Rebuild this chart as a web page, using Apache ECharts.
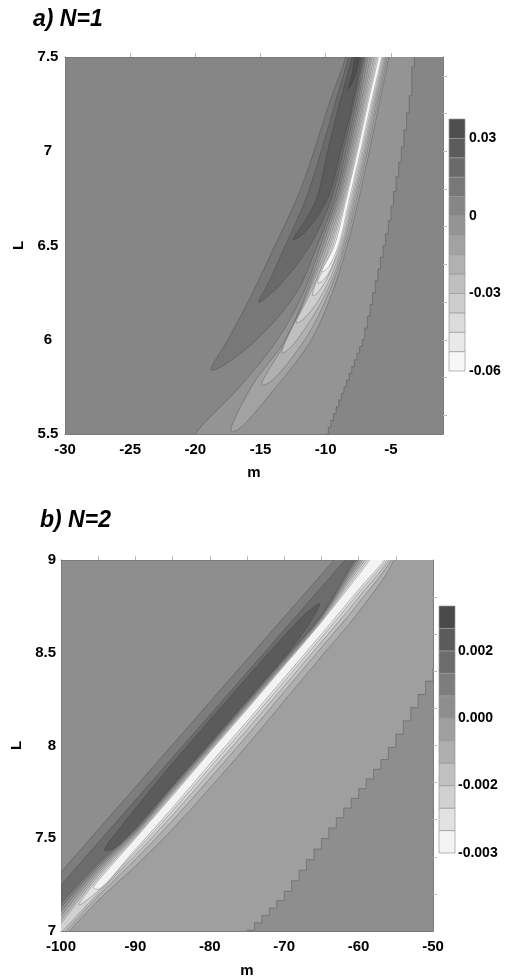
<!DOCTYPE html>
<html><head><meta charset="utf-8">
<script src="https://cdn.jsdelivr.net/npm/echarts@6/dist/echarts.min.js"></script>
<style>html,body{margin:0;padding:0;background:#fff}#c{width:507px;height:979px}</style>
</head><body><div id="c"></div>
<script>
// ================= DATA =================
// ---- panel a) N=1 ----
const mA_labels = [-30, -25, -20, -15, -10, -5];
const mA_topTicks = [-25, -20, -15, -10, -5];
const LA_rightTicks = [5.6, 5.8, 6.0, 6.2, 6.4, 6.6, 6.8, 7.0, 7.2, 7.4];
const levelsA = [-0.06, -0.0525, -0.045, -0.0375, -0.03, -0.0225, -0.015, -0.0075, 0, 0.0075, 0.015, 0.0225, 0.03, 0.0375];
const cbTicksA = [0.03, 0, -0.03, -0.06];
const cbLabelsA = ['0.03', '0', '-0.03', '-0.06'];
// contour lines [m, L]
const a_zero = [[-20.5,5.42],[-20,5.5],[-16.6,5.75],[-13.7,6.0],[-11.7,6.25],[-10.4,6.5],[-9.15,6.75],[-8.3,7.0],[-7.55,7.25],[-6.92,7.5],[-6.6,7.62]];
const a_stair = [[-10.2,5.46],[-10.0,5.5],[-9.0,5.68],[-7.2,6.0],[-5.28,6.6],[-4.25,7.0],[-3.5,7.34],[-3.35,7.5],[-3.3,7.62]];
const a_N1 = [[-17.25,5.515],[-15.7,5.75],[-13.1,6.0],[-11.5,6.25],[-10.21,6.5],[-9.02,6.75],[-8.17,7.0],[-7.42,7.25],[-6.75,7.5],[-6.45,7.62],[-4.8,7.62],[-5.15,7.5],[-5.9,7.25],[-6.65,7.0],[-7.45,6.75],[-8.35,6.5],[-9.5,6.25],[-11.1,6.0],[-13.8,5.75],[-16.8,5.52]];
const a_N2 = [[-14.9,5.76],[-13.0,6.0],[-11.4,6.25],[-10.03,6.5],[-8.9,6.75],[-8.05,7.0],[-7.28,7.25],[-6.58,7.5],[-6.3,7.62],[-4.95,7.62],[-5.28,7.5],[-6.05,7.25],[-6.81,7.0],[-7.62,6.75],[-8.51,6.5],[-9.75,6.25],[-11.6,6.0],[-14.2,5.78]];
const a_N3 = [[-13.36,5.93],[-11.3,6.25],[-9.86,6.5],[-8.78,6.75],[-7.93,7.0],[-7.16,7.25],[-6.44,7.5],[-6.15,7.62],[-5.05,7.62],[-5.38,7.5],[-6.16,7.25],[-6.93,7.0],[-7.75,6.75],[-8.63,6.5],[-9.95,6.25],[-12.2,6.0],[-13.0,5.94]];
const a_N4 = [[-12.26,6.09],[-11.15,6.25],[-9.71,6.5],[-8.68,6.75],[-7.83,7.0],[-7.06,7.25],[-6.3,7.5],[-6.0,7.62],[-5.13,7.62],[-5.46,7.5],[-6.26,7.25],[-7.03,7.0],[-7.86,6.75],[-8.73,6.5],[-10.2,6.25],[-11.7,6.11]];
const a_N5 = [[-11.0,6.235],[-10.5,6.35],[-9.58,6.5],[-8.59,6.75],[-7.74,7.0],[-6.96,7.25],[-6.18,7.5],[-5.88,7.62],[-5.2,7.62],[-5.54,7.5],[-6.35,7.25],[-7.13,7.0],[-7.96,6.75],[-8.83,6.5],[-10.1,6.3],[-10.7,6.245]];
const a_N6 = [[-10.6,6.3],[-9.45,6.5],[-8.5,6.75],[-7.65,7.0],[-6.87,7.25],[-6.07,7.5],[-5.77,7.62],[-5.28,7.62],[-5.62,7.5],[-6.44,7.25],[-7.23,7.0],[-8.06,6.75],[-8.93,6.5],[-10.0,6.33]];
const a_N7 = [[-10.3,6.36],[-9.33,6.5],[-8.42,6.75],[-7.57,7.0],[-6.78,7.25],[-5.96,7.5],[-5.66,7.62],[-5.36,7.62],[-5.7,7.5],[-6.54,7.25],[-7.33,7.0],[-8.17,6.75],[-9.03,6.5],[-9.85,6.38]];
const a_P1 = [[-18.79,5.84],[-17.5,6.0],[-15.6,6.25],[-13.9,6.5],[-12.2,6.75],[-10.9,7.0],[-9.75,7.25],[-8.45,7.5],[-7.95,7.62],[-6.75,7.62],[-7.03,7.5],[-7.7,7.25],[-8.45,7.0],[-9.3,6.75],[-10.65,6.5],[-12.25,6.25],[-15.3,6.0],[-18.2,5.85]];
const a_P2 = [[-15.13,6.2],[-14.4,6.3],[-13.1,6.5],[-11.5,6.75],[-10.35,7.0],[-9.3,7.25],[-8.23,7.5],[-7.75,7.62],[-6.85,7.62],[-7.13,7.5],[-7.85,7.25],[-8.65,7.0],[-9.55,6.75],[-11.2,6.5],[-13.8,6.27]];
const a_P3 = [[-12.51,6.53],[-11.6,6.63],[-10.7,6.75],[-9.85,7.0],[-8.95,7.25],[-7.97,7.5],[-7.55,7.62],[-7.0,7.62],[-7.26,7.5],[-7.95,7.25],[-8.85,7.0],[-9.85,6.75],[-11.6,6.57]];
const a_P4 = [[-8.25,7.33],[-7.95,7.42],[-7.77,7.5],[-7.55,7.62],[-7.25,7.62],[-7.41,7.5],[-7.75,7.4]];

// ---- panel b) N=2 ----
const mB_topTicks = [-95, -90, -85, -80, -75, -70, -65, -60, -55];
const LB_rightTicks = [7.2, 7.4, 7.6, 7.8, 8.0, 8.2, 8.4, 8.6, 8.8];
const levelsB = [-0.004, -0.003333, -0.002667, -0.002, -0.001333, -0.000667, 0, 0.000667, 0.001333, 0.002, 0.002667, 0.003333];
const cbTicksB = [0.002, 0, -0.002, -0.004];
const cbLabelsB = ['0.002', '0.000', '-0.002', '-0.003'];
const b_p0667_up = [[-100,7.317],[-80,8.234],[-63.3,9.0],[-61,9.105]];
const b_p1333_up = [[-100,7.247],[-80,8.164],[-61.8,9.0],[-59.5,9.105]];
const b_p2_lobe = [[-94.13,7.434],[-92,7.56],[-90,7.66],[-85,7.905],[-80,8.137],[-75,8.367],[-70,8.59],[-67,8.715],[-65.23,8.765],[-66.5,8.665],[-70,8.476],[-75,8.247],[-80,8.017],[-85,7.788],[-90,7.558],[-92.7,7.45]];
const b_p1333_low = [[-100,7.15],[-95,7.366],[-90,7.551],[-85,7.783],[-80,8.01],[-75,8.24],[-70,8.47],[-65,8.704],[-60,9.034],[-55,9.284]];
const b_p0667_low = [[-100,7.127],[-95,7.353],[-90,7.543],[-85,7.776],[-80,8.003],[-75,8.233],[-70,8.463],[-65,8.699],[-60,9.018],[-55,9.268]];
const b_zero_up = [[-100,7.104],[-95,7.339],[-90,7.536],[-85,7.768],[-80,7.997],[-75,8.227],[-70,8.457],[-65,8.693],[-60,9.001],[-55,9.251]];
const b_m0667_up = [[-100,7.082],[-95,7.325],[-90,7.529],[-85,7.76],[-80,7.99],[-75,8.22],[-70,8.45],[-65,8.688],[-60,8.985],[-55,9.235]];
const b_m1333_up = [[-100,7.06],[-95,7.311],[-90,7.522],[-85,7.753],[-80,7.984],[-75,8.214],[-70,8.445],[-65,8.682],[-60,8.969],[-55,9.219]];
const b_m2_up = [[-100,7.04],[-95,7.298],[-90,7.514],[-85,7.745],[-80,7.978],[-75,8.208],[-70,8.44],[-65,8.676],[-60,8.953],[-55,9.203]];
const b_m2667_up = [[-97.6,7.14],[-95,7.284],[-90,7.507],[-85,7.738],[-80,7.971],[-75,8.201],[-70,8.435],[-65,8.671],[-60,8.936],[-55,9.186]];
const b_m3333_up = [[-95.6,7.235],[-95,7.27],[-90,7.5],[-85,7.73],[-80,7.965],[-75,8.195],[-70,8.43],[-65,8.665],[-60,8.92],[-55,9.17]];
const b_m3333_low = [[-55,9.09],[-60,8.84],[-65,8.6],[-70,8.365],[-75,8.13],[-80,7.9],[-85,7.665],[-90,7.44],[-95,7.225]];
const b_m2667_low = [[-55,9.081],[-60,8.822],[-65,8.582],[-70,8.346],[-75,8.111],[-80,7.881],[-85,7.648],[-90,7.427],[-95,7.216]];
const b_m2_low = [[-55,9.069],[-60,8.798],[-65,8.558],[-70,8.321],[-75,8.085],[-80,7.855],[-85,7.625],[-90,7.409],[-95,7.204],[-100,6.99]];
const b_m1333_low = [[-55,9.054],[-60,8.768],[-65,8.528],[-70,8.29],[-75,8.052],[-80,7.822],[-85,7.596],[-90,7.386],[-95,7.189],[-100,6.97]];
const b_m0667_low = [[-55,9.03],[-60,8.72],[-65,8.48],[-70,8.24],[-75,8.0],[-80,7.77],[-85,7.55],[-90,7.35],[-95,7.165],[-100,6.95]];
const b_stair = [[-75.6,6.97],[-75.1,7.0],[-70.6,7.18],[-63.4,7.59],[-56.7,7.94],[-50.4,8.39],[-49.8,8.43],[-49.3,8.47]];

// ================= STYLE / DRAWING =================
const FONT = 'Liberation Sans';
const STROKE = 'rgba(50,50,50,0.5)';
const LW = 0.6;
const grayA = j => { const g = Math.round(247 - 14.1 * j); return 'rgb(' + g + ',' + g + ',' + g + ')'; };
const grayB = j => { const g = Math.round(243 - 16.9 * j); return 'rgb(' + g + ',' + g + ',' + g + ')'; };
const rev = a => a.slice().reverse();
const first = a => a[0];

const regionsA = [
  {parts: [a_zero, [[0, 7.62]], [[0, 5.42]]], lv: 8, side: 'below'},
  {stair: a_stair, dm: 0.2, ext: [0, 5.42, 7.62], lv: 8, side: 'above'},
  {closed: true, pts: a_N1, lv: 7, side: 'below'},
  {closed: true, pts: a_N2, lv: 6, side: 'below'},
  {closed: true, pts: a_N3, lv: 5, side: 'below'},
  {closed: true, pts: a_N4, lv: 4, side: 'below'},
  {closed: true, pts: a_N5, lv: 3, side: 'below'},
  {closed: true, pts: a_N6, lv: 2, side: 'below'},
  {closed: true, pts: a_N7, lv: 1, side: 'below'},
  {closed: true, pts: a_P1, lv: 9, side: 'above'},
  {closed: true, pts: a_P2, lv: 10, side: 'above'},
  {closed: true, pts: a_P3, lv: 11, side: 'above'},
  {closed: true, pts: a_P4, lv: 12, side: 'above'}
];
const edgeB = (up) => [[[-101, 6.9]], [[-101, first(up)[1]]]];
const regionsB = [
  {parts: [b_p0667_up, rev(b_p0667_low)], lv: 7, side: 'above'},
  {parts: [b_p1333_up, rev(b_p1333_low)], lv: 8, side: 'above'},
  {closed: true, pts: b_p2_lobe, lv: 9, side: 'above'},
  {parts: [b_zero_up, [[-45, 9.6]], [[-45, 6.8]], [[-101, 6.8]], [[-101, first(b_zero_up)[1]]]], lv: 6, side: 'below'},
  {stair: b_stair, dm: 1, ext: [-45, 6.9, 9.1], lv: 6, side: 'above'},
  {parts: [b_m0667_up.concat(b_m0667_low)].concat(edgeB(b_m0667_up)), lv: 5, side: 'below'},
  {parts: [b_m1333_up.concat(b_m1333_low)].concat(edgeB(b_m1333_up)), lv: 4, side: 'below'},
  {parts: [b_m2_up.concat(b_m2_low)].concat(edgeB(b_m2_up)), lv: 3, side: 'below'},
  {closed: true, pts: b_m2667_up.concat(b_m2667_low), lv: 2, side: 'below'},
  {closed: true, pts: b_m3333_up.concat(b_m3333_low), lv: 1, side: 'below'}
];

const f = p => p[0].toFixed(2) + ' ' + p[1].toFixed(2);
function bez(p0, p1, p2, p3) {
  const d1 = Math.sqrt(Math.hypot(p1[0] - p0[0], p1[1] - p0[1]));
  const d2 = Math.sqrt(Math.hypot(p2[0] - p1[0], p2[1] - p1[1]));
  const d3 = Math.sqrt(Math.hypot(p3[0] - p2[0], p3[1] - p2[1]));
  let c1, c2;
  if (d1 < 1e-6 || d2 < 1e-6) c1 = p1; else {
    const a = d1 * d1, b = d2 * d2, den = 3 * d1 * (d1 + d2), k = 2 * a + 3 * d1 * d2 + b;
    c1 = [(a * p2[0] - b * p0[0] + k * p1[0]) / den, (a * p2[1] - b * p0[1] + k * p1[1]) / den];
  }
  if (d3 < 1e-6 || d2 < 1e-6) c2 = p2; else {
    const a = d3 * d3, b = d2 * d2, den = 3 * d3 * (d3 + d2), k = 2 * a + 3 * d3 * d2 + b;
    c2 = [(a * p1[0] - b * p3[0] + k * p2[0]) / den, (a * p1[1] - b * p3[1] + k * p2[1]) / den];
  }
  return ' C' + f(c1) + ' ' + f(c2) + ' ' + f(p2);
}
function crOpen(px) {
  let d = '';
  for (let i = 0; i < px.length - 1; i++) d += bez(px[i - 1] || px[i], px[i], px[i + 1], px[i + 2] || px[i + 1]);
  return d;
}
function crClosed(px) {
  const n = px.length; let d = 'M' + f(px[0]);
  for (let i = 0; i < n; i++) d += bez(px[(i - 1 + n) % n], px[i], px[(i + 1) % n], px[(i + 2) % n]);
  return d + ' Z';
}
function stairPath(api, r) {
  const s = r.stair, dm = r.dm, xr = r.ext[0], yb = r.ext[1], yt = r.ext[2];
  const Lof = m => {
    if (m <= s[0][0]) return s[0][1];
    for (let i = 0; i < s.length - 1; i++) {
      const a = s[i], b = s[i + 1];
      if (m >= a[0] && m <= b[0]) return a[1] + (b[1] - a[1]) * (m - a[0]) / (b[0] - a[0]);
    }
    return s[s.length - 1][1];
  };
  const m0 = s[0][0], m1 = s[s.length - 1][0];
  let k = Math.ceil(m0 / dm - 1e-9);
  const pts = [[k * dm, yb]];
  while (k * dm < m1) {
    const L = Lof(k * dm);
    pts.push([k * dm, L]);
    k++;
    pts.push([k * dm, L]);
  }
  pts.push([k * dm, yt], [xr, yt], [xr, yb]);
  return 'M' + pts.map(p => f(api.coord(p))).join(' L') + ' Z';
}
function regionPath(api, r) {
  if (r.stair) return stairPath(api, r);
  if (r.closed) return crClosed(r.pts.map(p => api.coord(p)));
  let d = '';
  r.parts.forEach((part, k) => {
    const px = part.map(p => api.coord(p));
    d += (k === 0 ? 'M' : ' L') + f(px[0]);
    if (px.length > 1) d += crOpen(px);
  });
  return d + ' Z';
}
function contourRender(regions, colorOf) {
  return function (params, api) {
    const r = regions[params.dataIndex];
    const band = r.side === 'below' ? r.lv - 1 : r.lv;
    return {type: 'path', shape: {pathData: regionPath(api, r)},
      style: {fill: colorOf(band), stroke: STROKE, lineWidth: LW}};
  };
}
function cbRender(levels, colorOf) {
  return function (params, api) {
    const j = params.dataIndex;
    const p1 = api.coord([0, levels[j + 1]]), p2 = api.coord([1, levels[j]]);
    return {type: 'rect', shape: {x: p1[0], y: p1[1], width: p2[0] - p1[0], height: p2[1] - p1[1]},
      style: {fill: colorOf(j), stroke: '#9a9a9a', lineWidth: 0.7}};
  };
}

const lblStyle = {fontFamily: FONT, fontWeight: 'bold', fontSize: 15, color: '#000'};
const nameStyle = {fontFamily: FONT, fontWeight: 'bold', fontSize: 15, color: '#000'};
const axLine = {show: true, onZero: false, lineStyle: {color: '#7a7a7a', width: 1}};
const tickSt = {show: true, inside: false, length: 4, lineStyle: {color: '#b8b8b8', width: 1}};
const pick = (vals, labels) => v => { let b = 0; vals.forEach((x, i) => { if (Math.abs(x - v) < Math.abs(vals[b] - v)) b = i; }); return labels[b]; };

const chart = echarts.init(document.getElementById('c'), null, {renderer: 'canvas'});
chart.setOption({
  animation: false,
  backgroundColor: '#fff',
  title: [
    {text: 'a) N=1', left: 28, top: 3, textStyle: {fontFamily: FONT, fontSize: 23, fontWeight: 'bold', fontStyle: 'italic', color: '#000'}},
    {text: 'b) N=2', left: 35, top: 504, textStyle: {fontFamily: FONT, fontSize: 23, fontWeight: 'bold', fontStyle: 'italic', color: '#000'}}
  ],
  grid: [
    {left: 65, top: 57, width: 378, height: 377, show: true, backgroundColor: grayA(8), borderWidth: 0},
    {left: 449, top: 119, width: 16, height: 252},
    {left: 61, top: 560, width: 372, height: 372, show: true, backgroundColor: grayB(6), borderWidth: 0},
    {left: 439, top: 606, width: 16, height: 247}
  ],
  xAxis: [
    {gridIndex: 0, type: 'value', position: 'bottom', min: -30, max: -1, axisLine: axLine, axisTick: {show: false}, splitLine: {show: false},
      axisLabel: Object.assign({customValues: mA_labels, margin: 8}, lblStyle),
      name: 'm', nameLocation: 'middle', nameGap: 31, nameTextStyle: nameStyle},
    {gridIndex: 0, type: 'value', position: 'top', min: -30, max: -1, axisLine: axLine, splitLine: {show: false},
      axisTick: Object.assign({customValues: mA_topTicks}, tickSt), axisLabel: {show: false}},
    {gridIndex: 1, type: 'value', min: 0, max: 1, show: false},
    {gridIndex: 2, type: 'value', position: 'bottom', min: -100, max: -50, interval: 10, axisLine: axLine, axisTick: {show: false}, splitLine: {show: false},
      axisLabel: Object.assign({margin: 8}, lblStyle),
      name: 'm', nameLocation: 'middle', nameGap: 32, nameTextStyle: nameStyle},
    {gridIndex: 2, type: 'value', position: 'top', min: -100, max: -50, axisLine: axLine, splitLine: {show: false},
      axisTick: Object.assign({customValues: mB_topTicks}, tickSt), axisLabel: {show: false}},
    {gridIndex: 3, type: 'value', min: 0, max: 1, show: false}
  ],
  yAxis: [
    {gridIndex: 0, type: 'value', position: 'left', min: 5.5, max: 7.5, interval: 0.5, axisLine: axLine, axisTick: {show: false}, splitLine: {show: false},
      axisLabel: Object.assign({margin: 17, align: 'center'}, lblStyle),
      name: 'L', nameLocation: 'middle', nameGap: 37, nameRotate: 90, nameTextStyle: nameStyle},
    {gridIndex: 0, type: 'value', position: 'right', min: 5.5, max: 7.5, axisLine: axLine, splitLine: {show: false},
      axisTick: Object.assign({customValues: LA_rightTicks}, tickSt), axisLabel: {show: false}},
    {gridIndex: 1, type: 'value', position: 'right', min: levelsA[0], max: levelsA[levelsA.length - 1],
      axisLine: {show: false}, axisTick: {show: false}, splitLine: {show: false},
      axisLabel: Object.assign({customValues: cbTicksA, margin: 4, formatter: pick(cbTicksA, cbLabelsA)}, lblStyle, {fontSize: 14})},
    {gridIndex: 2, type: 'value', position: 'left', min: 7, max: 9, interval: 0.5, axisLine: axLine, axisTick: {show: false}, splitLine: {show: false},
      axisLabel: Object.assign({margin: 5}, lblStyle),
      name: 'L', nameLocation: 'middle', nameGap: 34, nameRotate: 90, nameTextStyle: nameStyle},
    {gridIndex: 2, type: 'value', position: 'right', min: 7, max: 9, axisLine: axLine, splitLine: {show: false},
      axisTick: Object.assign({customValues: LB_rightTicks}, tickSt), axisLabel: {show: false}},
    {gridIndex: 3, type: 'value', position: 'right', min: levelsB[0], max: levelsB[levelsB.length - 1],
      axisLine: {show: false}, axisTick: {show: false}, splitLine: {show: false},
      axisLabel: Object.assign({customValues: cbTicksB, margin: 3, formatter: pick(cbTicksB, cbLabelsB)}, lblStyle, {fontSize: 14})}
  ],
  series: [
    {type: 'custom', xAxisIndex: 0, yAxisIndex: 0, clip: true, silent: true, z: 1,
      data: regionsA.map(() => [-30, 5.5]), renderItem: contourRender(regionsA, grayA)},
    {type: 'custom', xAxisIndex: 2, yAxisIndex: 2, silent: true,
      data: levelsA.slice(1).map(() => [0, 0]), renderItem: cbRender(levelsA, grayA)},
    {type: 'custom', xAxisIndex: 3, yAxisIndex: 3, clip: true, silent: true, z: 1,
      data: regionsB.map(() => [-100, 7]), renderItem: contourRender(regionsB, grayB)},
    {type: 'custom', xAxisIndex: 5, yAxisIndex: 5, silent: true,
      data: levelsB.slice(1).map(() => [0, 0]), renderItem: cbRender(levelsB, grayB)}
  ]
});
</script>
</body></html>
